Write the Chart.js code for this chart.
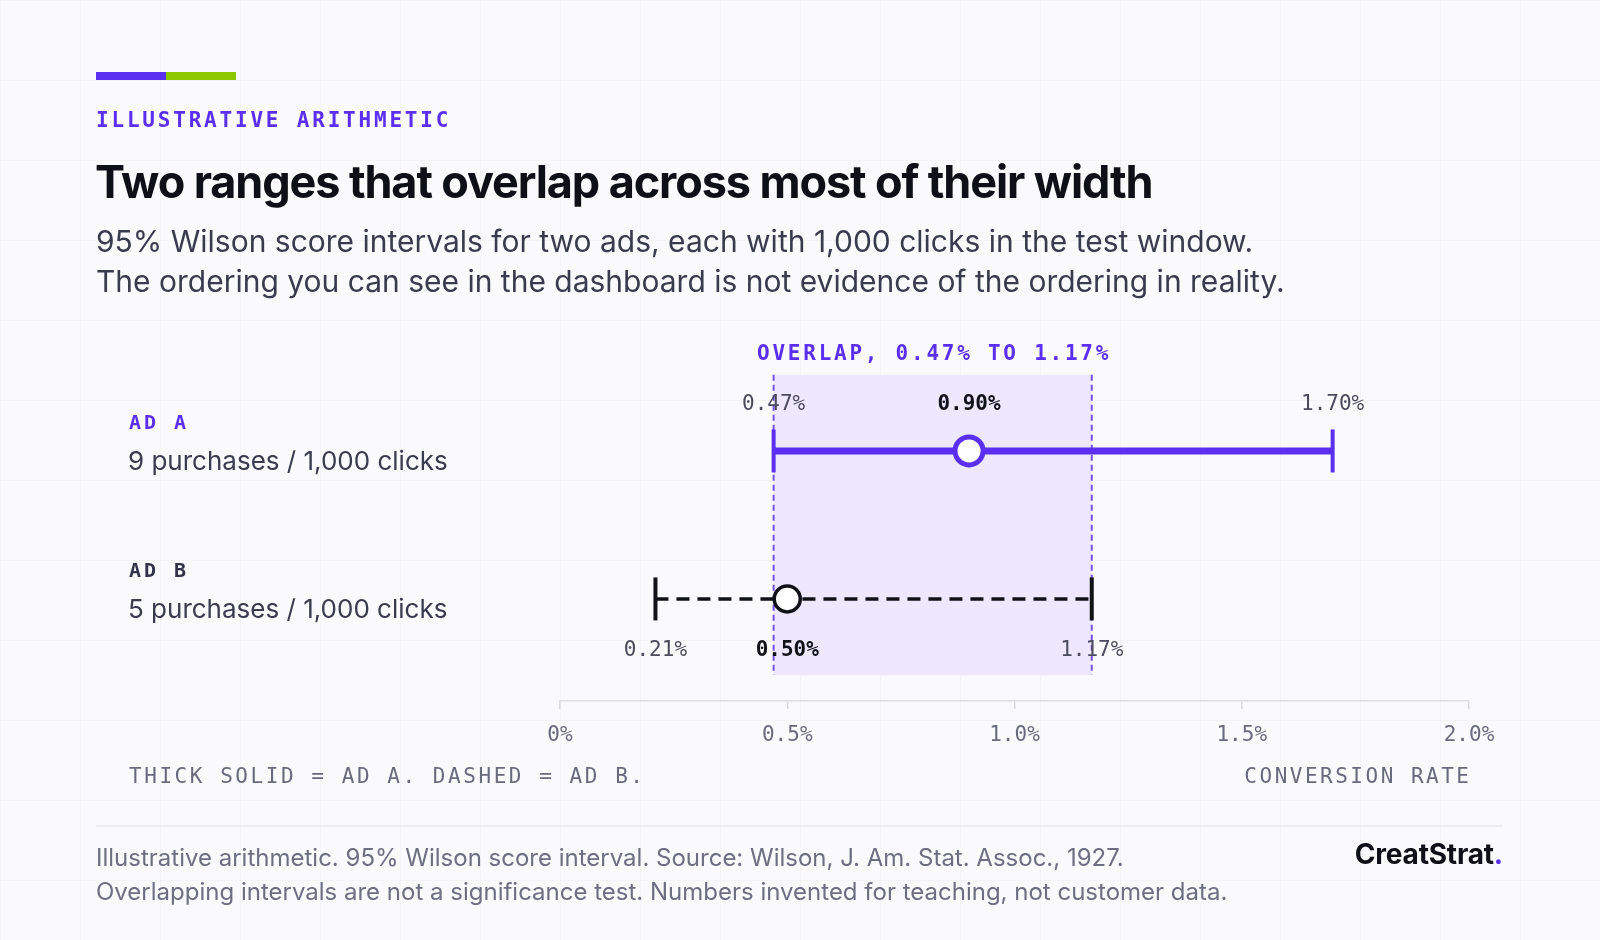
<!DOCTYPE html>
<html>
<head>
<meta charset="utf-8">
<script src="https://cdn.jsdelivr.net/npm/chart.js@4/dist/chart.umd.min.js"></script>
<style>
  html, body { margin: 0; padding: 0; }
  body {
    width: 1600px; height: 940px; position: relative; overflow: hidden;
    background-color: #fafafc;
    background-image:
      linear-gradient(to right, rgba(20, 20, 60, 0.028) 1px, transparent 1px),
      linear-gradient(to bottom, rgba(20, 20, 60, 0.028) 1px, transparent 1px);
    background-size: 80px 80px;
    font-family: Inter, "Noto Sans", sans-serif;
  }
  .abs { position: absolute; white-space: nowrap; }
  .mono { font-family: "DejaVu Sans Mono", monospace; }
  #bar { left: 96px; top: 72px; width: 140px; height: 8px;
         background: linear-gradient(to right, #5b2ff0 50%, #8cc800 50%); }
  #kicker { left: 96px; top: 110px; font-size: 21px; line-height: 21px; font-weight: bold;
            letter-spacing: 2.8px; color: #5b2ff0; }
  #title { left: 95px; top: 159px; font-size: 45px; line-height: 45px; font-weight: 700;
           letter-spacing: -1.1px; color: #0f0f17; }
  #sub { left: 96px; top: 221px; font-size: 30px; line-height: 40px; color: #3b3b4f; }
  #note { left: 129px; top: 766px; font-size: 21px; line-height: 21px; letter-spacing: 2.55px; color: #6a6a7e; }
  #axisTitle { right: 131px; top: 766px; font-size: 21px; line-height: 21px; letter-spacing: 2.5px;
               color: #6a6a7e; margin-right: -2.5px; }
  #rule { left: 96px; top: 825px; width: 1407px; height: 2px; background: #ededf2; }
  #foot { left: 96px; top: 841px; font-size: 24px; line-height: 34px; color: #6e6e82; }
  #brand { right: 97px; top: 841px; font-size: 28px; line-height: 27px; font-weight: 700;
           color: #0f0f17; letter-spacing: -0.2px; }
  #brand span { color: #5b2ff0; }
  #chartWrap { position: absolute; left: 0; top: 0; width: 1600px; height: 940px; }
</style>
</head>
<body>
<div id="chartWrap"><canvas id="ciChart"></canvas></div>

<div id="bar" class="abs"></div>
<div id="kicker" class="abs mono">ILLUSTRATIVE ARITHMETIC</div>
<div id="title" class="abs">Two ranges that overlap across most of their width</div>
<div id="sub" class="abs">95% Wilson score intervals for two ads, each with 1,000 clicks in the test window.<br>The ordering you can see in the dashboard is not evidence of the ordering in reality.</div>
<div id="note" class="abs mono">THICK SOLID = AD A. DASHED = AD B.</div>
<div id="axisTitle" class="abs mono">CONVERSION RATE</div>
<div id="rule" class="abs"></div>
<div id="foot" class="abs">Illustrative arithmetic. 95% Wilson score interval. Source: Wilson, J. Am. Stat. Assoc., 1927.<br>Overlapping intervals are not a significance test. Numbers invented for teaching, not customer data.</div>
<div id="brand" class="abs">CreatStrat<span>.</span></div>

<script>
// data (conversion rates in %)
const ads = ["AD A", "AD B"];
const purchases = [9, 5];
const clicks = [1000, 1000];
const rates = [0.90, 0.50];
const lowBounds = [0.47, 0.21];
const highBounds = [1.70, 1.17];
const xTicks = [0, 0.5, 1.0, 1.5, 2.0];

const PURPLE = "#5b2ff0";
const INK = "#111118";
const MONO = "'DejaVu Sans Mono', monospace";

// overlap of the two intervals
const overlapLow = Math.max(...lowBounds);
const overlapHigh = Math.min(...highBounds);

const fmt = (v) => v.toFixed(2) + "%";
const rowY = (i) => i + 1; // row positions on the hidden y scale

const datasets = [];
ads.forEach((ad, i) => {
    const color = i === 0 ? PURPLE : INK;
    // interval line
    datasets.push({
        data: [{ x: lowBounds[i], y: rowY(i) }, { x: highBounds[i], y: rowY(i) }],
        showLine: true,
        borderColor: color,
        borderWidth: i === 0 ? 7 : 3.5,
        borderDash: i === 0 ? [] : [13, 8],
        pointRadius: 0,
        order: 3,
    });
    // end caps
    datasets.push({
        data: [{ x: lowBounds[i], y: rowY(i) }, { x: highBounds[i], y: rowY(i) }],
        showLine: false,
        pointStyle: "line",
        rotation: 90,
        pointRadius: 21.5,
        pointBorderWidth: 4,
        pointBorderColor: color,
        order: 2,
    });
    // point estimate
    datasets.push({
        data: [{ x: rates[i], y: rowY(i) }],
        showLine: false,
        pointStyle: "circle",
        pointRadius: i === 0 ? 14 : 13,
        pointBorderWidth: i === 0 ? 5 : 3.5,
        pointBorderColor: color,
        pointBackgroundColor: "#ffffff",
        order: 1,
    });
});

// shaded overlap band behind the intervals
const overlapBand = {
    id: "overlapBand",
    beforeDatasetsDraw(chart) {
        const { ctx, scales: { x, y } } = chart;
        const x0 = x.getPixelForValue(overlapLow);
        const x1 = x.getPixelForValue(overlapHigh);
        const y0 = y.getPixelForValue(0.485);
        const y1 = y.getPixelForValue(2.515);
        ctx.save();
        ctx.fillStyle = "#ede8fd";
        ctx.fillRect(x0, y0, x1 - x0, y1 - y0);
        ctx.strokeStyle = "#7552e6";
        ctx.lineWidth = 2;
        ctx.setLineDash([6, 4]);
        [x0, x1].forEach((px) => {
            ctx.beginPath();
            ctx.moveTo(px, y0);
            ctx.lineTo(px, y1);
            ctx.stroke();
        });
        ctx.setLineDash([]);
        ctx.fillStyle = PURPLE;
        ctx.font = "bold 21px " + MONO;
        ctx.letterSpacing = "2.75px";
        ctx.textAlign = "center";
        ctx.textBaseline = "alphabetic";
        ctx.fillText("OVERLAP, " + fmt(overlapLow) + " TO " + fmt(overlapHigh), (x0 + x1) / 2 + 1.4, y0 - 15);
        ctx.restore();
    },
};

// value labels and row labels
const labels = {
    id: "labels",
    afterDatasetsDraw(chart) {
        const { ctx, scales: { x, y } } = chart;
        ctx.save();
        ctx.textAlign = "center";
        ctx.textBaseline = "alphabetic";
        ads.forEach((ad, i) => {
            const py = y.getPixelForValue(rowY(i));
            const ly = i === 0 ? py - 41 : py + 57;
            ctx.font = "21px " + MONO;
            ctx.fillStyle = "#4b4b5c";
            ctx.fillText(fmt(lowBounds[i]), x.getPixelForValue(lowBounds[i]), ly);
            ctx.fillText(fmt(highBounds[i]), x.getPixelForValue(highBounds[i]), ly);
            ctx.font = "bold 21px " + MONO;
            ctx.fillStyle = INK;
            ctx.fillText(fmt(rates[i]), x.getPixelForValue(rates[i]), ly);

            // row label on the left
            ctx.textAlign = "left";
            ctx.font = "bold 20px " + MONO;
            ctx.letterSpacing = "3px";
            ctx.fillStyle = i === 0 ? PURPLE : "#33334a";
            ctx.fillText(ad, 129, py - 22);
            ctx.letterSpacing = "0px";
            ctx.font = "26px Inter, 'Noto Sans', sans-serif";
            ctx.fillStyle = "#3b3b4f";
            ctx.fillText(purchases[i] + " purchases / " + clicks[i].toLocaleString("en-US") + " clicks", 128, py + 19);
            ctx.textAlign = "center";
        });
        ctx.restore();
    },
};

new Chart(document.getElementById("ciChart"), {
    type: "scatter",
    data: { datasets: datasets },
    options: {
        responsive: true,
        maintainAspectRatio: false,
        animation: false,
        layout: { padding: { left: 560, right: 131, top: 303, bottom: 189 } },
        plugins: {
            legend: { display: false },
            tooltip: { enabled: false },
        },
        scales: {
            x: {
                type: "linear",
                min: xTicks[0],
                max: xTicks[xTicks.length - 1],
                afterBuildTicks: (scale) => { scale.ticks = xTicks.map((v) => ({ value: v })); },
                afterFit: (scale) => { scale.height = 50; },
                ticks: {
                    callback: (v) => (v === 0 ? "0%" : v.toFixed(1) + "%"),
                    font: { family: MONO, size: 21 },
                    color: "#6a6a7e",
                    padding: 14,
                    maxRotation: 0,
                },
                grid: { drawOnChartArea: false, drawTicks: true, tickLength: 8, color: "#d9d9e1", lineWidth: 1.5 },
                border: { display: true, color: "#dcdce3", width: 1.5 },
            },
            y: {
                type: "linear",
                min: 0,
                max: 2.69,
                reverse: true,
                display: false,
            },
        },
    },
    plugins: [overlapBand, labels],
});
</script>
</body>
</html>
